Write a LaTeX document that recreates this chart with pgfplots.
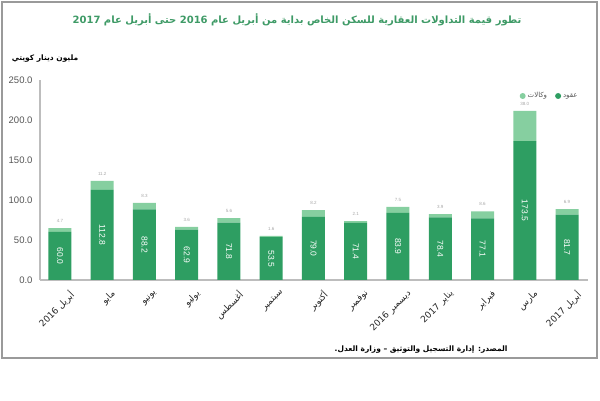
\documentclass[border=0pt]{standalone}
\usepackage{fontspec}
\setmainfont{Liberation Sans}
\newfontfamily\arabicfont[Script=Arabic]{DejaVu Sans}
\TeXXeTstate=1
\usepackage{pgfplots}
\pgfplotsset{compat=1.18}
\usepackage{pgfplotstable}
\definecolor{dkgreen}{HTML}{2E9E62}
\definecolor{ltgreen}{HTML}{86CFA0}
\definecolor{titlegreen}{HTML}{3E9A66}
\definecolor{axisgray}{HTML}{BDBDBD}
\definecolor{framegray}{HTML}{9A9A9A}
\definecolor{txtgray}{HTML}{555555}

\pgfplotstableread{
x dark light
0 60.0 4.7
1 112.8 11.2
2 88.2 8.3
3 62.9 3.6
4 71.8 5.6
5 53.5 1.6
6 79.0 8.2
7 71.4 2.1
8 83.9 7.5
9 78.4 3.9
10 77.1 8.6
11 173.5 38.0
12 81.7 6.9
}\data

\begin{document}
\begin{tikzpicture}
\useasboundingbox (0pt,0pt) rectangle (600pt,401pt);
\draw[framegray, line width=1.3pt] (2pt,43pt) rectangle (597pt,399pt);
\node[font=\arabicfont\bfseries\fontsize{10}{12}\selectfont, text=titlegreen] at (297pt,381pt)
  {\beginR تطور قيمة التداولات العقارية للسكن الخاص بداية من أبريل عام \beginL2016\endL{} حتى أبريل عام \beginL2017\endL\endR};
\node[font=\arabicfont\bfseries\fontsize{7.5}{9}\selectfont, text=black] at (45pt,342pt)
  {\beginR مليون دينار كويتي\endR};
\node[font=\arabicfont\bfseries\fontsize{7.5}{9}\selectfont, text=black, anchor=east] at (511pt,51pt)
  {\beginR المصدر: إدارة التسجيل والتوثيق – وزارة العدل.\endR};
\begin{axis}[
  at={(40pt,121pt)}, anchor=south west,
  scale only axis, width=548pt, height=200pt, clip=false,
  ybar stacked, bar width=23pt,
  xmin=-0.473, xmax=12.497, ymin=0, ymax=250,
  axis x line*=bottom, axis y line*=left,
  axis line style={draw=axisgray, line width=1.4pt, -},
  major tick length=0pt,
  ytick={0,50,100,150,200,250},
  /pgf/number format/assume math mode=true,
  yticklabel={\pgfmathprintnumber[fixed,fixed zerofill,precision=1]{\tick}},
  yticklabel style={font=\fontsize{9.5}{10}\selectfont, text=txtgray, xshift=-4pt},
  xtick={0,1,2,3,4,5,6,7,8,9,10,11,12},
  xticklabels={
    {\beginR أبريل \beginL2016\endL\endR},
    {\beginR مايو\endR},
    {\beginR يونيو\endR},
    {\beginR يوليو\endR},
    {\beginR أغسطس\endR},
    {\beginR سبتمبر\endR},
    {\beginR أكتوبر\endR},
    {\beginR نوفمبر\endR},
    {\beginR ديسمبر \beginL2016\endL\endR},
    {\beginR يناير \beginL2017\endL\endR},
    {\beginR فبراير\endR},
    {\beginR مارس\endR},
    {\beginR أبريل \beginL2017\endL\endR}},
  xticklabel style={font=\arabicfont\fontsize{9}{10}\selectfont, text=black!85, rotate=45, anchor=north east, xshift=3pt, yshift=-9pt},
  reverse legend,
  legend style={at={(0.93,0.92)}, anchor=center, draw=none, fill=none,
    legend columns=2, font=\arabicfont\fontsize{7}{8}\selectfont, text=txtgray,
    /tikz/every even column/.append style={column sep=6pt}},
  legend image code/.code={\fill (0.12cm,0pt) circle (3pt);},
]
\addplot[fill=dkgreen, draw=none,
  point meta=explicit,
  nodes near coords={\pgfmathprintnumber[fixed,fixed zerofill,precision=1]{\pgfplotspointmeta}},
  every node near coord/.style={rotate=-90, anchor=center,
    text=white, font=\fontsize{8.5}{9}\selectfont}]
  table[x=x, y=dark, meta=dark] {\data};
\addlegendentry{\beginR عقود\endR}
\addplot[fill=ltgreen, draw=none,
  point meta=explicit,
  visualization depends on={\thisrow{light} \as \rawl},
  nodes near coords={\pgfmathprintnumber[fixed,fixed zerofill,precision=1]{\pgfplotspointmeta}},
  every node near coord/.style={anchor=south, text=black!35, font=\fontsize{4.5}{5}\selectfont, yshift={0.4pt*\rawl+2pt}}]
  table[x=x, y=light, meta=light] {\data};
\addlegendentry{\beginR وكالات\endR}
\end{axis}
\end{tikzpicture}
\end{document}
